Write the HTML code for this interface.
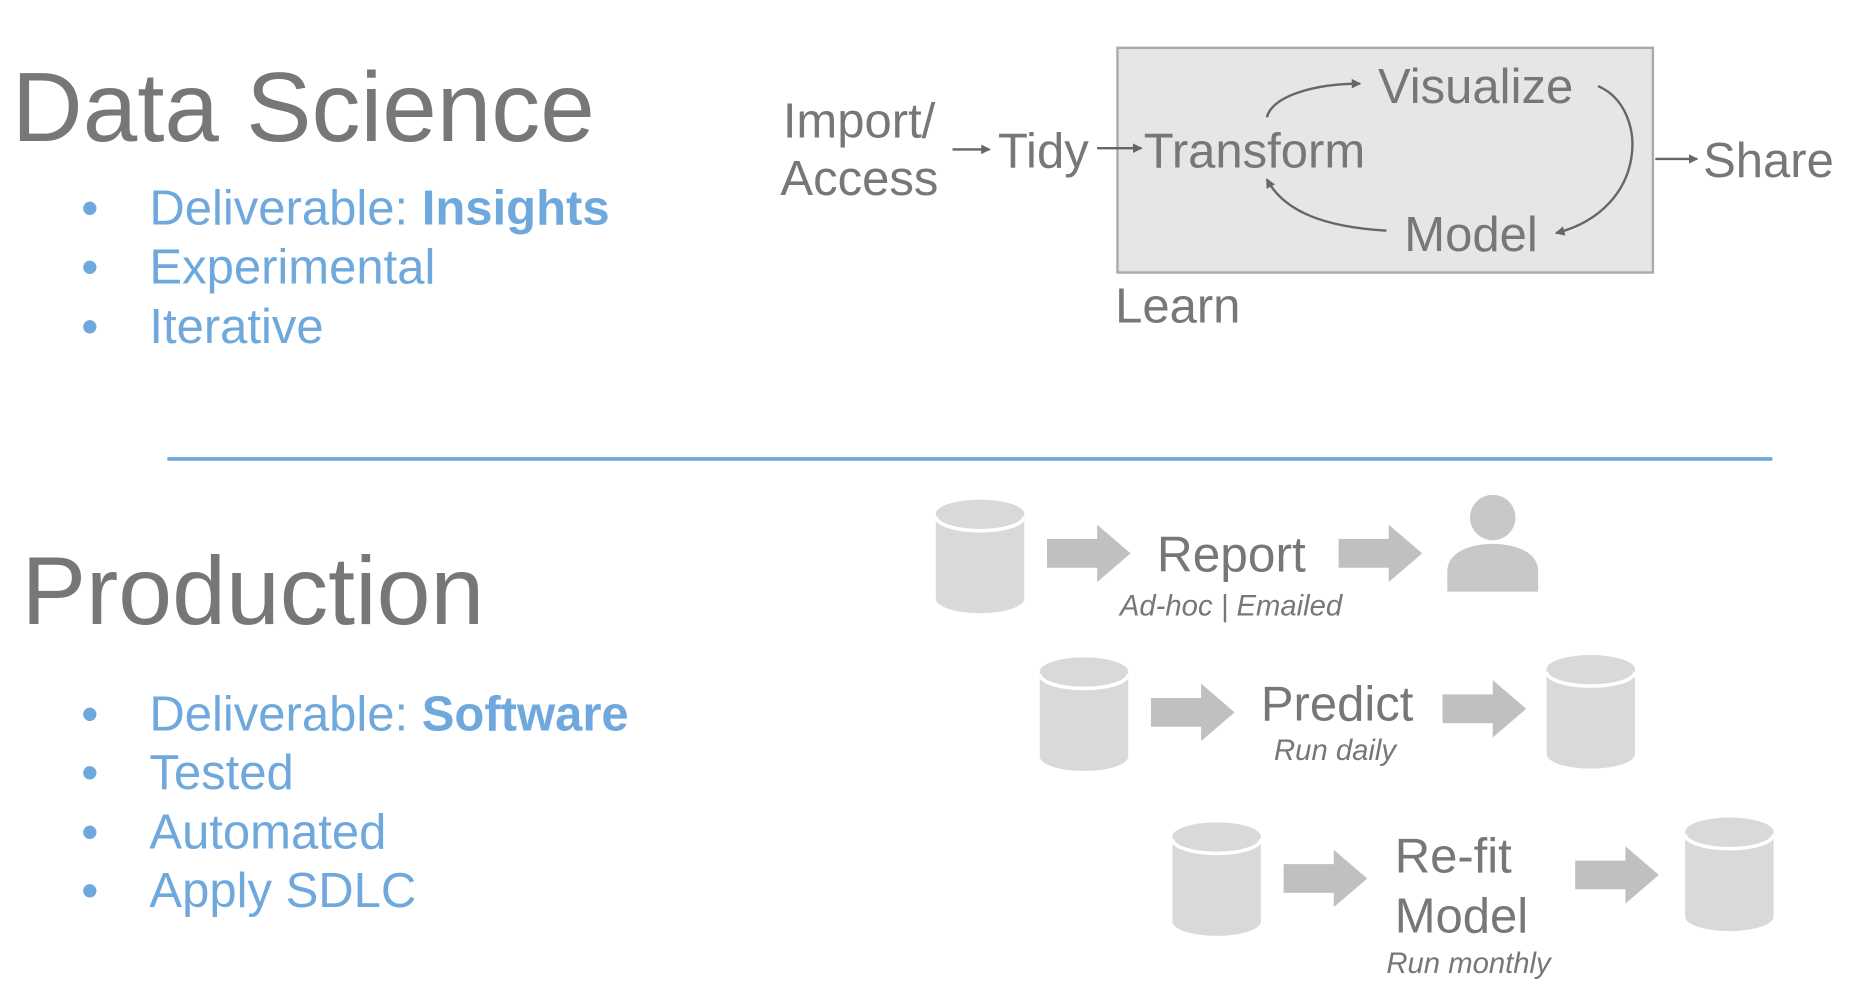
<!DOCTYPE html>
<html><head><meta charset="utf-8"><style>
html,body{margin:0;padding:0;background:#fff;}
svg{display:block;font-family:"Liberation Sans",Arial,sans-serif;}
</style></head><body>
<svg width="1874" height="1004" viewBox="0 0 1568 840" preserveAspectRatio="none" xmlns="http://www.w3.org/2000/svg">
<defs>
<marker id="ah" markerWidth="8" markerHeight="8" refX="7" refY="4" orient="auto" markerUnits="userSpaceOnUse"><path d="M0,0 L8,4 L0,8 z" fill="#666"/></marker>
<g id="cyl"><path d="M0,12 L0,83 A37,12 0 0 0 74,83 L74,12 Z" fill="#d9d9d9"/><ellipse cx="37" cy="12" rx="37" ry="12" fill="#d9d9d9"/><path d="M0,14 A37,12 0 0 0 74,14" fill="none" stroke="#fff" stroke-width="3"/></g>
<path id="barr" d="M0,-12 L42,-12 L42,-24 L70,0 L42,24 L42,12 L0,12 Z" fill="#c0c0c0"/>
</defs>
<g fill="#777">
<text x="10" y="118" font-size="82">Data Science</text>
<text x="18" y="522" font-size="81">Production</text>
</g>
<g fill="#6fa8dc" font-size="41">
<text x="68" y="188">•</text><text x="125" y="188">Deliverable: <tspan font-weight="bold">Insights</tspan></text>
<text x="68" y="237">•</text><text x="125" y="237">Experimental</text>
<text x="68" y="287">•</text><text x="125" y="287">Iterative</text>
<text x="68" y="611">•</text><text x="125" y="611">Deliverable: <tspan font-weight="bold">Software</tspan></text>
<text x="68" y="660">•</text><text x="125" y="660">Tested</text>
<text x="68" y="710">•</text><text x="125" y="710">Automated</text>
<text x="68" y="759">•</text><text x="125" y="759">Apply SDLC</text>
</g>
<rect x="935" y="40" width="448" height="188" fill="#e6e6e6" stroke="#aaa" stroke-width="2"/>
<g fill="#777" font-size="41">
<text x="655" y="115">Import/</text>
<text x="653" y="163">Access</text>
<text x="835" y="140">Tidy</text>
<text x="957" y="140">Transform</text>
<text x="1153" y="86">Visualize</text>
<text x="1175" y="210">Model</text>
<text x="1425" y="148">Share</text>
<text x="933" y="270">Learn</text>
</g>
<g stroke="#666" stroke-width="2" fill="none" marker-end="url(#ah)">
<path d="M797,125 L828,125"/>
<path d="M918,124 L955,124"/>
<path d="M1385,133 L1420,133"/>
<path d="M1060,98 C1065,80 1100,70 1138,70"/>
<path d="M1337,72 C1380,90 1380,175 1302,195"/>
<path d="M1160,193 C1110,190 1075,178 1060,150"/>
</g>
<line x1="140" y1="384" x2="1483" y2="384" stroke="#6fa8dc" stroke-width="3"/>
<use href="#cyl" x="783" y="418"/>
<use href="#barr" x="876" y="463"/>
<text x="968" y="478" font-size="41.5" fill="#777">Report</text>
<text x="937" y="515" font-size="24.5" font-style="italic" fill="#777">Ad-hoc | Emailed</text>
<use href="#barr" x="1120" y="463"/>
<circle cx="1249" cy="433" r="19" fill="#c8c8c8"/>
<path d="M1211,495 L1211,478 C1211,462 1230,455 1249,455 C1268,455 1287,462 1287,478 L1287,495 Z" fill="#c8c8c8"/>
<use href="#cyl" x="870" y="550"/>
<use href="#barr" x="963" y="596"/>
<text x="1055" y="603" font-size="41" fill="#777">Predict</text>
<text x="1066" y="636" font-size="24.5" font-style="italic" fill="#777">Run daily</text>
<use href="#barr" x="1207" y="593"/>
<use href="#cyl" x="1294" y="548"/>
<use href="#cyl" x="981" y="688"/>
<use href="#barr" x="1074" y="735"/>
<text x="1167" y="730" font-size="41" fill="#777">Re-fit</text>
<text x="1167" y="780" font-size="41" fill="#777">Model</text>
<text x="1160" y="814" font-size="24.5" font-style="italic" fill="#777">Run monthly</text>
<use href="#barr" x="1318" y="732"/>
<use href="#cyl" x="1410" y="684"/>
</svg>
</body></html>
